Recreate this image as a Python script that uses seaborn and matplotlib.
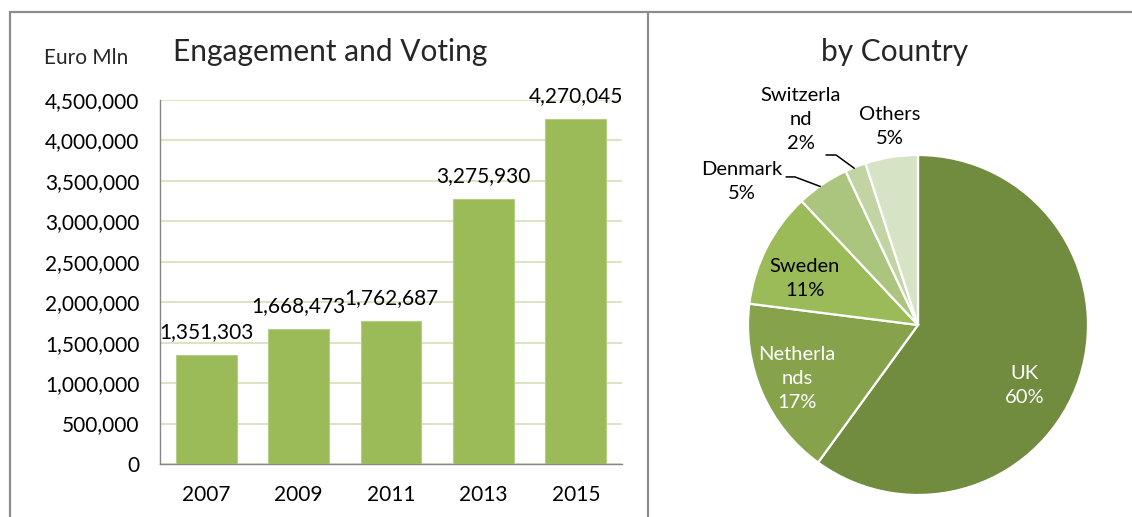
import matplotlib
matplotlib.use("Agg")
import matplotlib.pyplot as plt
from matplotlib.lines import Line2D
import seaborn as sns
import numpy as np
import pandas as pd

# Engagement and voting assets (Euro Mln) by year
years = ["2007", "2009", "2011", "2013", "2015"]
assets = [1351303, 1668473, 1762687, 3275930, 4270045]
yticks = [0, 500000, 1000000, 1500000, 2000000, 2500000, 3000000, 3500000, 4000000, 4500000]

# Share by country (%)
countries = ["UK", "Netherlands", "Sweden", "Denmark", "Switzerland", "Others"]
shares = [60, 17, 11, 5, 2, 5]
country_labels = ["UK", "Netherla\nnds", "Sweden", "Denmark", "Switzerla\nnd", "Others"]

sns.set_style("white")
plt.rcParams["font.family"] = ["Lato", "DejaVu Sans"]

W, H = 1132, 517
fig = plt.figure(figsize=(W / 100, H / 100), dpi=100)


def fx(px):
    return px / W


def fy(py):
    return 1 - py / H


FS = 15  # body text size

# ---------- bar chart ----------
bar_color = "#9BBB59"
grid_color = "#D7E4BD"
axis_color = "#868686"

ax = fig.add_axes([fx(160), fy(464), fx(622) - fx(160), fy(100) - fy(464)])
df = pd.DataFrame({"year": years, "assets": assets})
sns.barplot(data=df, x="year", y="assets", color=bar_color, width=0.66,
            saturation=1, edgecolor="#B5CD85", linewidth=0.8, ax=ax, zorder=3)

ax.set_xlim(-0.5, len(years) - 0.5)
ax.set_ylim(0, 4500000)
ax.set_yticks(yticks)
ax.set_yticklabels([f"{v:,}" for v in yticks])
ax.yaxis.grid(True, color=grid_color, linewidth=1.3, zorder=0)
ax.xaxis.grid(False)
ax.set_axisbelow(True)
ax.set_xlabel("")
ax.set_ylabel("")

# category boundaries carry the tick marks, centres carry the labels
ax.set_xticks(np.arange(-0.5, len(years), 1.0))
ax.set_xticklabels([])
ax.set_xticks(np.arange(len(years)), minor=True)
ax.set_xticklabels(years, minor=True)
ax.tick_params(axis="x", which="major", length=6, width=1, color=axis_color, direction="out")
ax.tick_params(axis="x", which="minor", length=0, pad=15, labelsize=FS, labelcolor="black")
ax.tick_params(axis="y", length=6, width=1, color=axis_color, direction="out", pad=9,
               labelsize=FS, labelcolor="black")

for side in ["top", "right"]:
    ax.spines[side].set_visible(False)
for side in ["left", "bottom"]:
    ax.spines[side].set_color(axis_color)
    ax.spines[side].set_linewidth(1)

for i, v in enumerate(assets):
    ax.annotate(f"{v:,}", (i, v), xytext=(0, 16.5), textcoords="offset points",
                ha="center", va="center", fontsize=FS, color="black", zorder=5)

fig.text(fx(86), fy(58), "Euro Mln", ha="center", va="center", fontsize=FS)
fig.text(fx(330), fy(52), "Engagement and Voting", ha="center", va="center", fontsize=21.5)

# ---------- pie chart ----------
pie_colors = ["#718B3F", "#86A34B", "#9BBB59", "#ABC47E", "#C3D4A4", "#D7E3C5"]
R = 170
pax = fig.add_axes([fx(918 - R), fy(325 + R), fx(2 * R), (2 * R) / H])
wedges, _ = pax.pie(shares, colors=pie_colors, startangle=90, counterclock=False,
                    radius=1, wedgeprops=dict(edgecolor="white", linewidth=1.6))
pax.set_xlim(-1, 1)
pax.set_ylim(-1, 1)
pax.set_aspect("equal")
pax.axis("off")

# label anchor points in pie units (centre = 0, radius = 1)
label_pos = [(0.626, -0.353), (-0.712, -0.312), (-0.665, 0.276),
             (-1.035, 0.847), (-0.688, 1.206), (-0.165, 1.165)]
label_color = ["white", "white", "black", "black", "black", "black"]
for name, share, (lx, ly), col in zip(country_labels, shares, label_pos, label_color):
    pax.text(lx, ly, f"{name}\n{share}%", ha="center", va="center", fontsize=FS - 0.5,
             color=col, linespacing=1.5, clip_on=False, multialignment="center")

# leader lines for the small slices
leaders = [
    ([-0.776, -0.724, -0.575], [0.871, 0.871, 0.815]),
    ([-0.541, -0.482, -0.375], [1.0, 1.0, 0.922]),
]
for xs, ys in leaders:
    pax.add_line(Line2D(xs, ys, color="black", linewidth=1.1, clip_on=False))

fig.text(fx(895), fy(52), "by Country", ha="center", va="center", fontsize=21.5)

# ---------- panel frames ----------
frame = dict(color="#8C8C8C", linewidth=1.6, transform=fig.transFigure)
fig.add_artist(Line2D([fx(10), fx(1132)], [fy(12), fy(12)], **frame))
fig.add_artist(Line2D([fx(10), fx(10)], [fy(12), 0], **frame))
fig.add_artist(Line2D([fx(648), fx(648)], [fy(12), 0], **frame))

fig.savefig("out.png", dpi=100, facecolor="white")
